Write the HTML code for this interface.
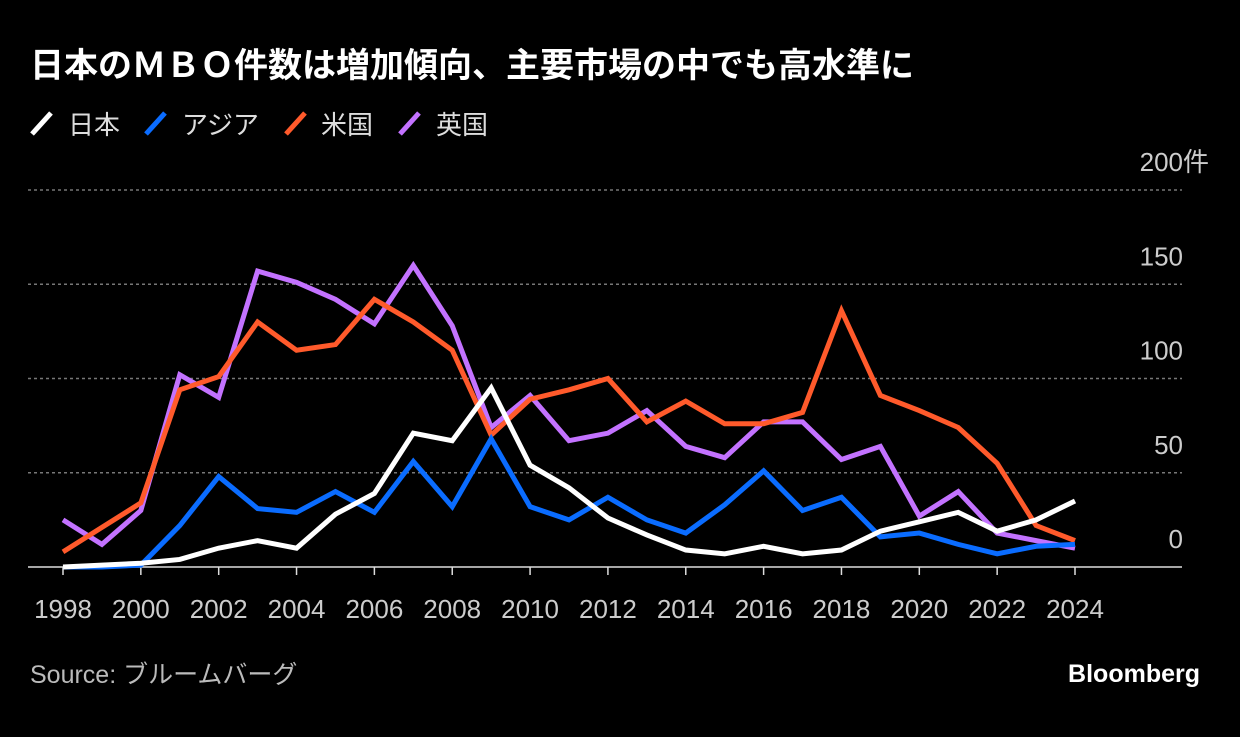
<!DOCTYPE html>
<html><head><meta charset="utf-8"><style>
body{margin:0;background:#000;width:1240px;height:732px;overflow:hidden;font-family:"Liberation Sans","Noto Sans CJK JP",sans-serif;}
</style></head><body>
<svg width="1240" height="732" id="svg" xmlns="http://www.w3.org/2000/svg" style="font-family:'Liberation Sans','Noto Sans CJK JP',sans-serif">
<text x="30" y="77" fill="#fff" font-size="34" font-weight="bold">日本のＭＢＯ件数は増加傾向、主要市場の中でも高水準に</text>
<g font-size="26" fill="#ddd">
<g><line x1="32" y1="134" x2="51" y2="113" stroke="#fff" stroke-width="5"/><text x="68" y="134">日本</text></g>
<g><line x1="146" y1="134" x2="165" y2="113" stroke="#0a6cff" stroke-width="5"/><text x="182" y="134">アジア</text></g>
<g><line x1="286" y1="134" x2="305" y2="113" stroke="#ff5a2b" stroke-width="5"/><text x="321" y="134">米国</text></g>
<g><line x1="400" y1="134" x2="419" y2="113" stroke="#c372ff" stroke-width="5"/><text x="436" y="134">英国</text></g>
</g>
<g id="grid"></g><g id="lines"></g>
<text x="30" y="683" fill="#bbb" font-size="25">Source:  ブルームバーグ</text>
<text x="1200" y="682" fill="#fff" font-size="25" font-weight="bold" text-anchor="end">Bloomberg</text>
</svg>
<script>
const years=[1998,1999,2000,2001,2002,2003,2004,2005,2006,2007,2008,2009,2010,2011,2012,2013,2014,2015,2016,2017,2018,2019,2020,2021,2022,2023,2024];
const japan=[0,1,2,4,10,14,10,28,39,71,67,95,54,42,26,17,9,7,11,7,9,19,24,29,19,25,35];
const asia=[0,0,1,22,48,31,29,40,29,56,32,68,32,25,37,25,18,33,51,30,37,16,18,12,7,11,12];
const us=[8,21,34,94,101,130,115,118,142,130,115,70,89,94,100,77,88,76,76,82,136,91,83,74,55,22,14];
const uk=[25,12,30,102,90,157,151,142,129,160,128,74,91,67,71,83,64,58,77,77,57,64,27,40,18,14,10];
const yTicks=[0,50,100,150,200];
const xTicks=[1998,2000,2002,2004,2006,2008,2010,2012,2014,2016,2018,2020,2022,2024];
const NS="http://www.w3.org/2000/svg";
const X=y=>63+(y-1998)*(1075-63)/26;
const Y=v=>567-v*(567-190)/200;
const grid=document.getElementById('grid'),lines=document.getElementById('lines');
function mk(tag,attrs,parent){const e=document.createElementNS(NS,tag);for(const k in attrs)e.setAttribute(k,attrs[k]);parent.appendChild(e);return e;}
yTicks.forEach(v=>{
  if(v>0){const l=mk('line',{x1:28,x2:1182,y1:Y(v),y2:Y(v),stroke:'#777','stroke-width':1.5,'stroke-dasharray':'3,3'},grid);
  
  }
  const t=mk('text',{x:1183,y:Y(v)-19,fill:'#ccc','font-size':26,'text-anchor':'end'},grid);
  t.textContent=String(v);
  
  
  if(v===200){const u=mk('text',{x:1183,y:Y(v)-19,fill:'#ccc','font-size':26},grid);
  u.textContent='件';
  
  }
});
const base=mk('line',{x1:28,x2:1182,y1:567,y2:567,stroke:'#ddd','stroke-width':1.5},grid);


xTicks.forEach(y=>{
  const tk=mk('line',{x1:X(y),x2:X(y),y1:567,y2:575,stroke:'#ddd','stroke-width':1.5},grid);
  
  
  const t=mk('text',{x:X(y),y:618,fill:'#ccc','font-size':26,'text-anchor':'middle'},grid);
  t.textContent=String(y);
  
  
});
[[uk,'#c372ff','uk'],[us,'#ff5a2b','us'],[asia,'#0a6cff','asia'],[japan,'#fff','japan']].forEach(([d,c,n])=>{
  const p=mk('polyline',{points:d.map((v,i)=>X(years[i])+','+Y(v)).join(' '),fill:'none',stroke:c,'stroke-width':5,'stroke-linejoin':'miter'},lines);
  
  
});
</script>
</body></html>
